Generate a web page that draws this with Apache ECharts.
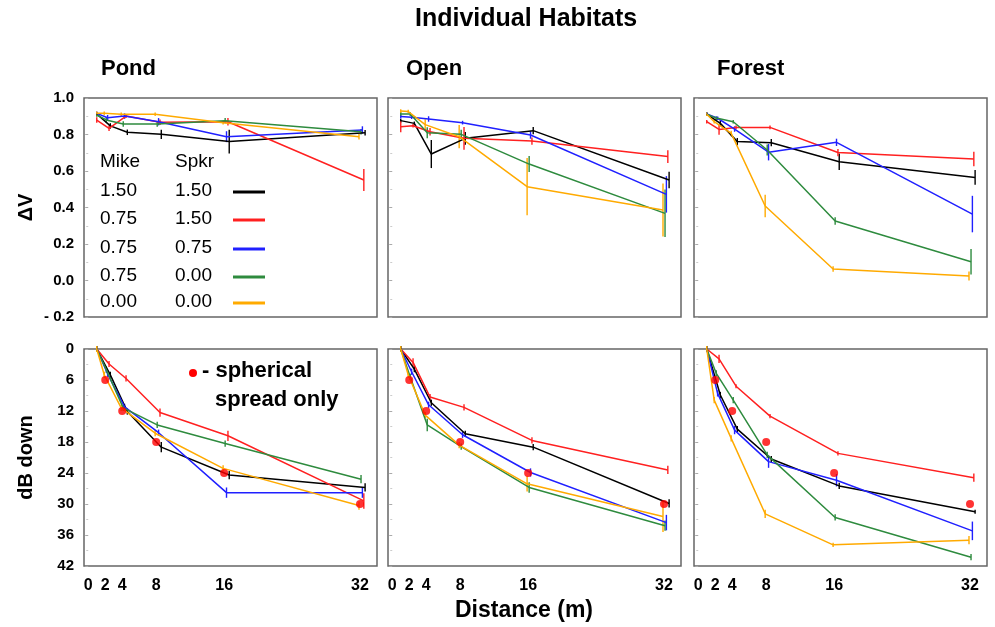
<!DOCTYPE html>
<html>
<head>
<meta charset="utf-8">
<script src="https://cdn.jsdelivr.net/npm/echarts@6.0.0/dist/echarts.min.js"></script>
<style>
html, body { margin: 0; padding: 0; background: #fff; }
#chart { width: 995px; height: 627px; }
</style>
</head>
<body>
<div id="chart"></div>
<script>
// ---- data ----
var distances = [1, 2, 4, 8, 16, 32];
var xTicks = [0, 2, 4, 8, 16, 32];
var habitats = ['Pond', 'Open', 'Forest'];
var mikeHeights = ['1.50', '0.75', '0.75', '0.75', '0.00'];
var spkrHeights = ['1.50', '1.50', '0.75', '0.00', '0.00'];
var seriesColors = ['#000000', '#ff2020', '#2020ff', '#2e8b3e', '#ffaa00'];
var xJitter = [0.6, 0.45, 0.28, 0.12, -0.12];

// delta V, rows = black, red, blue, green, orange
var pondDV = [
  [0.912, 0.847, 0.812, 0.801, 0.761, 0.810],
  [0.879, 0.834, 0.901, 0.867, 0.870, 0.551],
  [0.916, 0.892, 0.901, 0.870, 0.788, 0.825],
  [0.907, 0.880, 0.857, 0.857, 0.876, 0.815],
  [0.916, 0.916, 0.911, 0.911, 0.865, 0.788]
];
var pondDVErr = [
  [0.01, 0.015, 0.015, 0.025, 0.065, 0.015],
  [0.015, 0.015, 0.01, 0.015, 0.02, 0.06],
  [0.01, 0.015, 0.015, 0.02, 0.03, 0.02],
  [0.01, 0.015, 0.015, 0.015, 0.015, 0.015],
  [0.01, 0.01, 0.01, 0.01, 0.01, 0.015]
];
var openDV = [
  [0.876, 0.861, 0.693, 0.779, 0.821, 0.551],
  [0.843, 0.848, 0.815, 0.779, 0.764, 0.679],
  [0.898, 0.895, 0.885, 0.865, 0.797, 0.472],
  [0.913, 0.912, 0.810, 0.801, 0.638, 0.368],
  [0.929, 0.926, 0.854, 0.788, 0.514, 0.386]
];
var openDVErr = [
  [0.01, 0.01, 0.077, 0.035, 0.02, 0.045],
  [0.03, 0.01, 0.02, 0.062, 0.02, 0.035],
  [0.01, 0.01, 0.015, 0.01, 0.02, 0.1],
  [0.01, 0.01, 0.03, 0.025, 0.044, 0.13],
  [0.01, 0.01, 0.03, 0.064, 0.157, 0.145]
];
var forestDV = [
  [0.911, 0.861, 0.761, 0.755, 0.651, 0.565],
  [0.870, 0.828, 0.839, 0.839, 0.701, 0.666],
  [0.913, 0.889, 0.830, 0.703, 0.757, 0.364],
  [0.911, 0.890, 0.870, 0.715, 0.326, 0.103],
  [0.911, 0.870, 0.806, 0.408, 0.063, 0.025]
];
var forestDVErr = [
  [0.01, 0.015, 0.02, 0.02, 0.045, 0.04],
  [0.01, 0.03, 0.01, 0.01, 0.02, 0.04],
  [0.01, 0.01, 0.015, 0.045, 0.02, 0.1],
  [0.01, 0.01, 0.01, 0.03, 0.02, 0.07],
  [0.01, 0.01, 0.015, 0.062, 0.015, 0.025]
];

// dB down
var pondDB = [
  [0, 5.0, 12.1, 19.0, 24.4, 26.8],
  [0, 2.9, 5.7, 12.3, 16.8, 29.4],
  [0, 4.8, 11.2, 16.2, 27.8, 27.8],
  [0, 4.0, 11.4, 14.7, 18.3, 25.2],
  [0, 5.0, 11.4, 16.3, 23.1, 30.3]
];
var pondDBErr = [
  [0.6, 0.6, 0.6, 1.0, 0.8, 0.8],
  [0.6, 0.6, 0.6, 0.8, 1.0, 1.5],
  [0.6, 0.6, 0.6, 0.6, 1.0, 1.0],
  [0.6, 0.6, 0.6, 0.6, 0.6, 0.8],
  [0.6, 0.6, 0.6, 0.6, 0.6, 0.8]
];
var openDB = [
  [0, 3.9, 10.4, 16.4, 19.0, 29.9],
  [0, 2.6, 9.3, 11.3, 17.7, 23.4],
  [0, 4.4, 10.8, 16.6, 23.9, 33.6],
  [0, 5.4, 14.7, 18.9, 26.8, 34.2],
  [0, 5.0, 12.8, 18.6, 26.1, 32.4]
];
var openDBErr = [
  [0.6, 0.6, 0.6, 0.6, 0.6, 0.8],
  [0.6, 0.8, 0.6, 0.6, 0.6, 0.8],
  [0.6, 0.6, 0.6, 0.6, 0.8, 1.5],
  [0.6, 0.6, 1.2, 0.6, 1.0, 1.0],
  [0.6, 0.6, 0.6, 0.6, 1.5, 3.0]
];
var forestDB = [
  [0, 8.9, 15.5, 21.3, 26.5, 31.5],
  [0, 1.9, 7.2, 13.0, 20.2, 24.9],
  [0, 8.6, 15.7, 21.8, 25.4, 35.2],
  [0, 4.7, 9.9, 20.5, 32.6, 40.3],
  [0, 9.9, 17.3, 31.9, 37.9, 37.0]
];
var forestDBErr = [
  [0.6, 0.6, 0.6, 0.6, 0.6, 0.4],
  [0.6, 0.8, 0.4, 0.4, 0.4, 0.8],
  [0.6, 0.6, 0.8, 1.2, 1.2, 1.8],
  [0.6, 0.6, 0.6, 0.6, 0.6, 0.6],
  [0.6, 0.6, 0.6, 0.8, 0.4, 0.8]
];

// spherical spreading reference (6 dB per doubling)
var sphericalDist = [2, 4, 8, 16, 32];
var sphericalDB = [6, 12, 18, 24, 30];

// ---- layout ----
var colLeft = [84, 388, 694];
var colWidth = 293;
var rowTop = [98, 349];
var rowHeight = [219, 217];

var panelValues = [[pondDV, openDV, forestDV], [pondDB, openDB, forestDB]];
var panelErrors = [[pondDVErr, openDVErr, forestDVErr], [pondDBErr, openDBErr, forestDBErr]];

var labelFont = 'Liberation Sans, Arial, sans-serif';

function renderErr(params, api) {
  var x = api.value(0), y = api.value(1), e = api.value(2);
  var p1 = api.coord([x, y - e]);
  var p2 = api.coord([x, y + e]);
  return {
    type: 'line',
    shape: { x1: p1[0], y1: p1[1], x2: p2[0], y2: p2[1] },
    style: { stroke: api.visual('color'), lineWidth: 1.4 }
  };
}

function xOf(i, s) {
  return i === 0 ? distances[i] : distances[i] + xJitter[s];
}

var grids = [], xAxes = [], yAxes = [], series = [];

for (var r = 0; r < 2; r++) {
  for (var c = 0; c < 3; c++) {
    var g = grids.length;
    grids.push({
      left: colLeft[c], top: rowTop[r], width: colWidth, height: rowHeight[r],
      show: true, borderColor: '#666', borderWidth: 1.5, backgroundColor: '#fff'
    });
    xAxes.push({
      type: 'value', gridIndex: g, min: -0.5, max: 34,
      axisLine: { show: false }, splitLine: { show: false },
      axisTick: { show: false },
      axisLabel: {
        show: r === 1, customValues: xTicks, margin: 12,
        color: '#000', fontFamily: labelFont, fontWeight: 'bold', fontSize: 16
      }
    });
    var yAx = {
      type: 'value', gridIndex: g,
      axisLine: { show: false }, splitLine: { show: false },
      axisTick: { show: true, length: 3, lineStyle: { color: '#aaa' } },
      minorTick: { show: true, splitNumber: 2, length: 2, lineStyle: { color: '#ccc' } },
      axisLabel: {
        show: c === 0, color: '#000', fontFamily: labelFont, fontWeight: 'bold',
        fontSize: 15, margin: 10, padding: [5, 0, 0, 0]
      },
      nameLocation: 'middle',
      nameTextStyle: { color: '#000', fontFamily: labelFont, fontWeight: 'bold', fontSize: 20 }
    };
    if (r === 0) {
      yAx.min = -0.2; yAx.max = 1.0; yAx.interval = 0.2;
      yAx.axisLabel.formatter = function (v) {
        if (Math.abs(v + 0.2) < 1e-6) return '- 0.2';
        return v.toFixed(1);
      };
      if (c === 0) { yAx.name = '\u0394V'; yAx.nameGap = 48; }
    } else {
      yAx.min = 0; yAx.max = 42; yAx.interval = 6; yAx.inverse = true;
      if (c === 0) { yAx.name = 'dB down'; yAx.nameGap = 48; }
    }
    yAxes.push(yAx);

    var vals = panelValues[r][c];
    var errs = panelErrors[r][c];
    for (var s = 0; s < 5; s++) {
      var lineData = [], errData = [];
      for (var i = 0; i < distances.length; i++) {
        lineData.push([xOf(i, s), vals[s][i]]);
        errData.push([xOf(i, s), vals[s][i], errs[s][i]]);
      }
      series.push({
        type: 'line', xAxisIndex: g, yAxisIndex: g, data: lineData,
        showSymbol: false, silent: true, animation: false,
        lineStyle: { color: seriesColors[s], width: 1.5 }, z: 3
      });
      series.push({
        type: 'custom', xAxisIndex: g, yAxisIndex: g, data: errData,
        renderItem: renderErr, itemStyle: { color: seriesColors[s] },
        silent: true, animation: false, z: 3
      });
    }
    if (r === 1) {
      series.push({
        type: 'scatter', xAxisIndex: g, yAxisIndex: g,
        data: sphericalDist.map(function (d, k) { return [d, sphericalDB[k]]; }),
        symbolSize: 8, itemStyle: { color: '#ff0000' }, silent: true, animation: false, z: 5
      });
    }
  }
}

// ---- text and legend graphics ----
var graphics = [
  { type: 'text', left: 415, top: 7, style: { text: 'Individual Habitats', fill: '#000',
    font: 'bold 25px ' + labelFont } },
  { type: 'text', left: 455, top: 599, style: { text: 'Distance (m)', fill: '#000',
    font: 'bold 23px ' + labelFont } }
];
var titleX = [101, 406, 717];
habitats.forEach(function (h, k) {
  graphics.push({ type: 'text', left: titleX[k], top: 58,
    style: { text: h, fill: '#000', font: 'bold 22px ' + labelFont } });
});
var legendFont = '19px ' + labelFont;
graphics.push({ type: 'text', left: 100, top: 152, style: { text: 'Mike', fill: '#000', font: legendFont } });
graphics.push({ type: 'text', left: 175, top: 152, style: { text: 'Spkr', fill: '#000', font: legendFont } });
var legendRowY = [192, 220, 249, 277, 303];
for (var k = 0; k < 5; k++) {
  graphics.push({ type: 'text', left: 100, top: legendRowY[k] - 11,
    style: { text: mikeHeights[k], fill: '#000', font: legendFont } });
  graphics.push({ type: 'text', left: 175, top: legendRowY[k] - 11,
    style: { text: spkrHeights[k], fill: '#000', font: legendFont } });
  graphics.push({ type: 'line', shape: { x1: 233, y1: legendRowY[k], x2: 265, y2: legendRowY[k] },
    style: { stroke: seriesColors[k], lineWidth: 3 } });
}
graphics.push({ type: 'circle', shape: { cx: 193, cy: 373, r: 4 }, style: { fill: '#ff0000' } });
graphics.push({ type: 'text', left: 202, top: 360, style: { text: '- spherical', fill: '#000', font: 'bold 22px ' + labelFont } });
graphics.push({ type: 'text', left: 215, top: 389, style: { text: 'spread only', fill: '#000', font: 'bold 22px ' + labelFont } });

var myChart = echarts.init(document.getElementById('chart'));
myChart.setOption({
  backgroundColor: '#fff',
  animation: false,
  grid: grids,
  xAxis: xAxes,
  yAxis: yAxes,
  series: series,
  graphic: graphics
});
</script>
</body>
</html>
